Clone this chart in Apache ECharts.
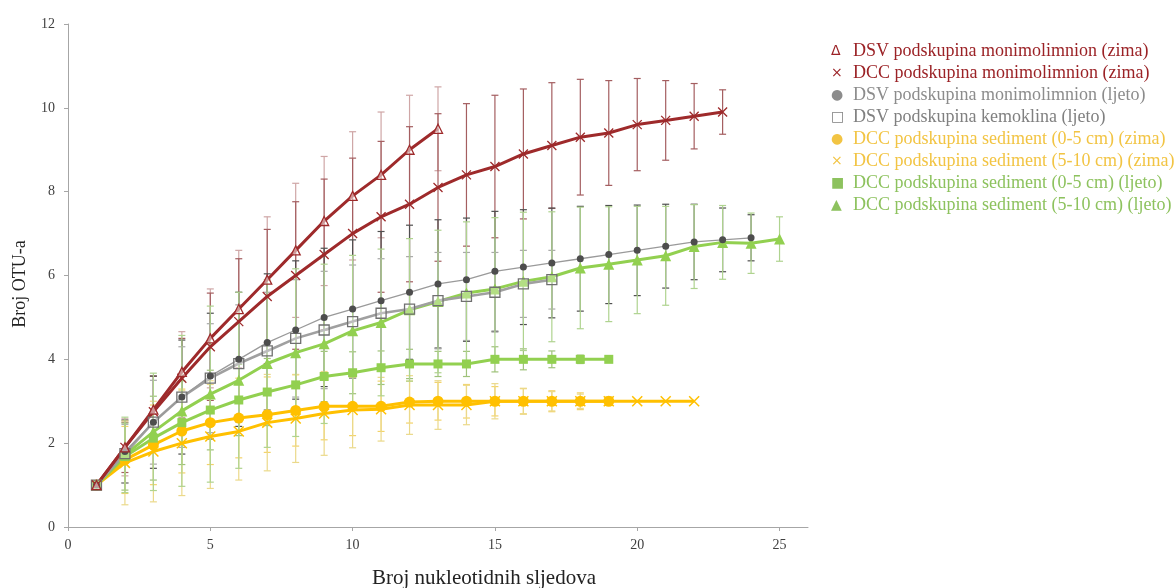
<!DOCTYPE html>
<html><head><meta charset="utf-8">
<script src="https://cdn.jsdelivr.net/npm/echarts@6/dist/echarts.min.js"></script>
<style>html,body{margin:0;padding:0;background:#fff}#c{width:1176px;height:588px}</style>
</head><body><div id="c"></div>
<script>
// Series names (legend order)
const seriesNames = [
  'DSV podskupina monimolimnion (zima)',
  'DCC podskupina monimolimnion (zima)',
  'DSV podskupina monimolimnion (ljeto)',
  'DSV podskupina kemoklina (ljeto)',
  'DCC podskupina sediment (0-5 cm) (zima)',
  'DCC podskupina sediment (5-10 cm) (zima)',
  'DCC podskupina sediment (0-5 cm) (ljeto)',
  'DCC podskupina sediment (5-10 cm) (ljeto)'
];
const legendSymbols = ['Δ', '×', '●', '□', '●', '×', '■', '▲'];

// Mean values (x = 1, 2, 3, ...) and standard deviations
const meanDsvMoniZima = [1, 1.9, 2.8, 3.7, 4.5, 5.2, 5.9, 6.6, 7.3, 7.9, 8.4, 9.0, 9.5];
const errDsvMoniZima  = [0, 0.68, 0.8, 0.96, 1.18, 1.4, 1.5, 1.6, 1.54, 1.53, 1.5, 1.3, 1.0];

const meanDccMoniZima = [1, 1.9, 2.75, 3.55, 4.3, 4.9, 5.5, 6.0, 6.5, 7.0, 7.4, 7.7, 8.1, 8.4, 8.6, 8.9, 9.1, 9.3, 9.4, 9.6, 9.7, 9.8, 9.9];
const errDccMoniZima  = [0, 0.6, 0.85, 0.95, 1.28, 1.5, 1.6, 1.76, 1.8, 1.8, 1.8, 1.85, 1.76, 1.7, 1.7, 1.55, 1.5, 1.38, 1.25, 1.1, 0.95, 0.78, 0.53];

const meanDsvMoniLjeto = [1, 1.8, 2.5, 3.1, 3.6, 4.0, 4.4, 4.7, 5.0, 5.2, 5.4, 5.6, 5.8, 5.9, 6.1, 6.2, 6.3, 6.4, 6.5, 6.6, 6.7, 6.8, 6.85, 6.9];
const errDsvMoniLjeto  = [0, 0.75, 1.1, 1.36, 1.5, 1.6, 1.64, 1.65, 1.65, 1.65, 1.65, 1.6, 1.53, 1.47, 1.43, 1.37, 1.31, 1.25, 1.17, 1.08, 1.0, 0.9, 0.76, 0.55];

const meanDsvKemoLjeto = [1, 1.75, 2.5, 3.1, 3.55, 3.9, 4.2, 4.5, 4.7, 4.9, 5.1, 5.2, 5.4, 5.5, 5.6, 5.8, 5.9];
const errDsvKemoLjeto  = [0, 0.7, 1.0, 1.2, 1.3, 1.4, 1.4, 1.4, 1.4, 1.35, 1.3, 1.25, 1.15, 1.05, 0.95, 0.8, 0.7];

const meanSed05Zima = [1, 1.6, 1.96, 2.29, 2.49, 2.6, 2.68, 2.78, 2.88, 2.88, 2.88, 2.98, 3.0, 3.0, 3.0, 3.0, 3.0, 3.0, 3.0];
const errSed05Zima  = [0, 0.8, 0.95, 1.0, 1.0, 0.95, 0.9, 0.85, 0.8, 0.7, 0.6, 0.5, 0.45, 0.4, 0.35, 0.3, 0.25, 0.2, 0.1];

const meanSed510Zima = [1, 1.53, 1.8, 2.0, 2.16, 2.28, 2.49, 2.59, 2.71, 2.79, 2.81, 2.91, 2.91, 2.91, 3.0, 3.0, 3.0, 3.0, 3.0, 3.0, 3.0, 3.0];
const errSed510Zima  = [0, 1.0, 1.2, 1.25, 1.24, 1.16, 1.15, 1.05, 1.0, 0.9, 0.76, 0.7, 0.58, 0.47, 0.42, 0.31, 0.23, 0.17, 0.1, 0, 0, 0];

const meanSed05Ljeto = [1, 1.68, 2.12, 2.49, 2.79, 3.03, 3.22, 3.39, 3.59, 3.68, 3.8, 3.89, 3.89, 3.89, 4.0, 4.0, 4.0, 4.0, 4.0];
const errSed05Ljeto  = [0, 0.8, 1.0, 1.0, 0.95, 0.85, 0.8, 0.7, 0.6, 0.5, 0.4, 0.35, 0.3, 0.3, 0.3, 0.25, 0.2, 0.1, 0.05];

const meanSed510Ljeto = [1, 1.72, 2.27, 2.77, 3.17, 3.5, 3.9, 4.16, 4.37, 4.68, 4.88, 5.18, 5.38, 5.58, 5.68, 5.86, 5.97, 6.18, 6.27, 6.37, 6.47, 6.69, 6.79, 6.77, 6.87];
const errSed510Ljeto  = [0, 0.9, 1.4, 1.8, 2.1, 2.1, 2.0, 2.0, 1.9, 1.8, 1.75, 1.7, 1.7, 1.7, 1.7, 1.65, 1.55, 1.45, 1.37, 1.28, 1.18, 1.0, 0.88, 0.72, 0.53];

const xTicks = [0, 5, 10, 15, 20, 25];

const RED = '#9E2A2B', GREY = '#A0A0A0', DGREY = '#4D4D4D', ORANGE = '#FFC000', GREEN = '#92D050';
const XPATH = 'path://M0,0L10,10M10,0L0,10';

const means = [meanDsvMoniZima, meanDccMoniZima, meanDsvMoniLjeto, meanDsvKemoLjeto, meanSed05Zima, meanSed510Zima, meanSed05Ljeto, meanSed510Ljeto];
const errs = [errDsvMoniZima, errDccMoniZima, errDsvMoniLjeto, errDsvKemoLjeto, errSed05Zima, errSed510Zima, errSed05Ljeto, errSed510Ljeto];
const errColors = ['#CFA6A6', '#A45E60', '#505050', '#A8A8A8', '#F3D36A', '#EBD98A', '#9FC27A', '#AFD38F'];
const legendColors = ['#9B2226', '#9B2226', '#8C8C8C', '#808080', '#F2C443', '#F2C443', '#8DC25E', '#8DC25E'];

const styles = [
  {symbol: 'triangle', symbolSize: 9, lineColor: RED, lineWidth: 3, item: {color: 'rgba(255,255,255,0.5)', borderColor: RED, borderWidth: 1.3}},
  {symbol: XPATH, symbolSize: 9, lineColor: RED, lineWidth: 3, item: {color: 'rgba(0,0,0,0)', borderColor: RED, borderWidth: 1.3}},
  {symbol: 'circle', symbolSize: 7, lineColor: '#9A9A9A', lineWidth: 1.3, item: {color: DGREY}},
  {symbol: 'rect', symbolSize: 10, lineColor: GREY, lineWidth: 2.6, item: {color: 'rgba(255,255,255,0.3)', borderColor: '#707070', borderWidth: 1.3}},
  {symbol: 'circle', symbolSize: 11, lineColor: ORANGE, lineWidth: 3, item: {color: ORANGE}},
  {symbol: XPATH, symbolSize: 10, lineColor: ORANGE, lineWidth: 3, item: {color: 'rgba(0,0,0,0)', borderColor: ORANGE, borderWidth: 1.5}},
  {symbol: 'rect', symbolSize: 9, lineColor: GREEN, lineWidth: 3, item: {color: GREEN}},
  {symbol: 'triangle', symbolSize: 11, lineColor: GREEN, lineWidth: 3, item: {color: GREEN}}
];

function errRender(color) {
  return function (params, api) {
    const x = api.value(0), lo = api.value(1), hi = api.value(2);
    if (!(hi - lo > 0)) return null;
    const p1 = api.coord([x, hi]), p2 = api.coord([x, lo]);
    const w = 3.5, st = {stroke: color, lineWidth: 1.2};
    return {type: 'group', children: [
      {type: 'line', shape: {x1: p1[0], y1: p1[1], x2: p2[0], y2: p2[1]}, style: st},
      {type: 'line', shape: {x1: p1[0] - w, y1: p1[1], x2: p1[0] + w, y2: p1[1]}, style: st},
      {type: 'line', shape: {x1: p2[0] - w, y1: p2[1], x2: p2[0] + w, y2: p2[1]}, style: st}
    ]};
  };
}

const series = [];
// error bars first (drawn below lines)
means.forEach((m, k) => {
  series.push({
    type: 'custom', name: 'err' + k, silent: true, z: 1,
    renderItem: errRender(errColors[k]),
    encode: {x: 0, y: [1, 2]},
    data: m.map((v, i) => [i + 1, v - errs[k][i], v + errs[k][i]])
  });
});
// draw order: lower series first so red lines lie on top
const drawOrder = [4, 5, 6, 7, 3, 2, 1, 0];
drawOrder.forEach(k => {
  const s = styles[k];
  series.push({
    type: 'line', name: seriesNames[k], z: 3,
    data: means[k].map((v, i) => [i + 1, v]),
    symbol: s.symbol, symbolSize: s.symbolSize, showAllSymbol: true,
    lineStyle: {color: s.lineColor, width: s.lineWidth},
    itemStyle: s.item,
    emphasis: {disabled: true}
  });
});

const chart = echarts.init(document.getElementById('c'), null, {renderer: 'canvas'});
chart.setOption({
  animation: false,
  backgroundColor: '#ffffff',
  textStyle: {fontFamily: 'Liberation Serif'},
  grid: {left: 68, right: 368, top: 24, bottom: 61, containLabel: false},
  xAxis: {
    type: 'value', min: 0, max: 26, interval: 5,
    splitLine: {show: false},
    axisLine: {lineStyle: {color: '#A6A6A6', width: 1}},
    axisTick: {show: true, length: 4, customValues: xTicks, lineStyle: {color: '#A6A6A6'}},
    axisLabel: {customValues: xTicks, color: '#404040', fontFamily: 'Liberation Serif', fontSize: 14, margin: 11}
  },
  yAxis: {
    type: 'value', min: 0, max: 12, interval: 2,
    splitLine: {show: false},
    axisLine: {show: true, lineStyle: {color: '#A6A6A6', width: 1}},
    axisTick: {show: true, length: 4, lineStyle: {color: '#A6A6A6'}},
    axisLabel: {color: '#404040', fontFamily: 'Liberation Serif', fontSize: 14, margin: 13}
  },
  legend: {
    orient: 'vertical', left: 820, top: 35,
    icon: 'none', itemWidth: 1, itemHeight: 10, itemGap: 0,
    selectedMode: false,
    data: seriesNames.map((n, k) => ({name: n, icon: 'none', textStyle: {color: legendColors[k]}})),
    formatter: function (name) {
      const k = seriesNames.indexOf(name);
      return '{s|' + legendSymbols[k] + '}' + name;
    },
    textStyle: {
      fontFamily: 'Liberation Serif', fontSize: 18, lineHeight: 22, padding: 0,
      rich: {s: {width: 22, fontSize: 14, lineHeight: 22, fontFamily: 'DejaVu Sans'}}
    }
  },
  graphic: [
    {type: 'text', x: 484, y: 578, style: {text: 'Broj nukleotidnih sljedova', fontFamily: 'Liberation Serif', fontSize: 21, fill: '#222', textAlign: 'center', textVerticalAlign: 'middle'}},
    {type: 'text', x: 20, y: 284, rotation: Math.PI / 2, style: {text: 'Broj OTU-a', fontFamily: 'Liberation Serif', fontSize: 18, fill: '#222', textAlign: 'center', textVerticalAlign: 'middle'}}
  ],
  series: series
});
</script>
</body></html>
